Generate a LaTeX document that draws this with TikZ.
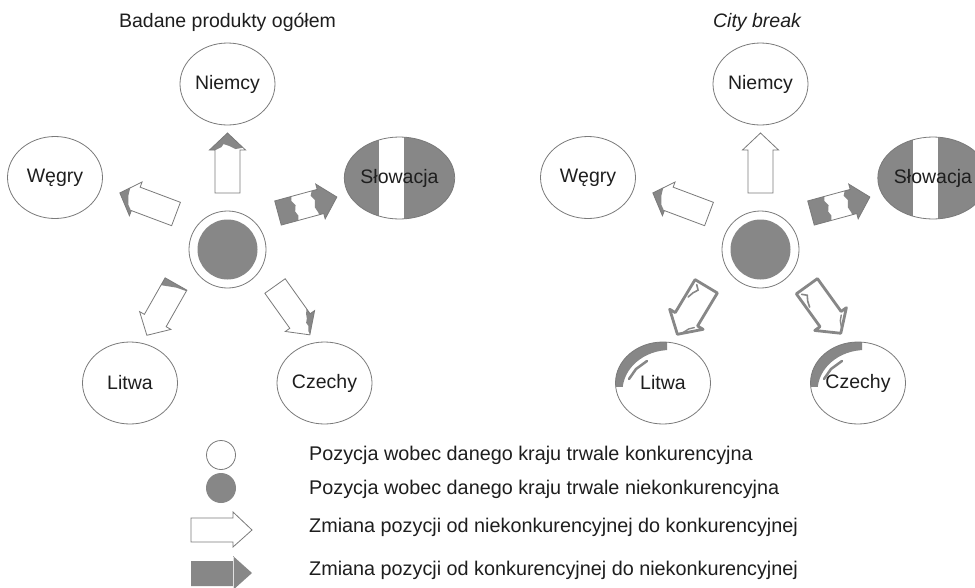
\documentclass[tikz,border=0pt]{standalone}
\usepackage{fontspec}
\setmainfont{Liberation Sans}
\usetikzlibrary{shapes.geometric}
\definecolor{fillgrey}{HTML}{878787}
\definecolor{linegrey}{HTML}{7A7A7A}
\definecolor{txt}{HTML}{1E1E1E}
\newcommand\labfont{\fontsize{19.5}{23}\selectfont}
\newcommand\legfont{\fontsize{19.8}{23}\selectfont}
% block arrow: #1,#2 tail middle, #3 angle, #4 length, #5 grey patches
\newcommand\blkarrow[5]{%
 \begin{scope}[shift={(#1,#2)},rotate=#3]
  \fill[white] (0,-12.5) -- ({#4-17},-12.5) -- ({#4-17},-18) -- (#4,0) -- ({#4-17},18) -- ({#4-17},12.5) -- (0,12.5) -- cycle;
  \begin{scope}
   \clip (0,-12.5) -- ({#4-17},-12.5) -- ({#4-17},-18) -- (#4,0) -- ({#4-17},18) -- ({#4-17},12.5) -- (0,12.5) -- cycle;
   #5
  \end{scope}
  \draw[arrline] (0,-12.5) -- ({#4-17},-12.5) -- ({#4-17},-18) -- (#4,0) -- ({#4-17},18) -- ({#4-17},12.5) -- (0,12.5) -- cycle;
 \end{scope}}
% thick outlined block arrow
\newcommand\thkarrow[4]{%
 \begin{scope}[shift={(#1,#2)},rotate=#3]
  \draw[fillgrey, fill=white, line width=2.8pt, line join=round] (1.5,-13) -- ({#4-19},-13) -- ({#4-19},-19.5) -- ({#4-1.5},0) -- ({#4-19},19.5) -- ({#4-19},13) -- (1.5,13) -- cycle;
  \draw[fillgrey, line width=1.6pt, line cap=round] (5,9) -- (9,5) -- (14,8) -- (20,10);
  \draw[fillgrey, line width=1.4pt, line cap=round] ({#4-16},-11) -- ({#4-12},-7) -- ({#4-6},-4);
 \end{scope}}
\tikzset{
  arrline/.style={draw=linegrey, line width=0.8pt, line join=miter},
  country/.style={ellipse, draw=linegrey, line width=0.8pt, minimum width=95pt, minimum height=82pt, inner sep=0pt, font=\labfont, text=txt},
  slovak/.style={country, path picture={
     \fill[fillgrey] (path picture bounding box.south west) rectangle ([xshift=-20.5pt]path picture bounding box.north);
     \fill[fillgrey] ([xshift=4.5pt]path picture bounding box.south) rectangle (path picture bounding box.north east);}},
  outerc/.style={circle, draw=linegrey, line width=0.8pt, minimum size=77pt, inner sep=0pt},
  innerc/.style={circle, fill=fillgrey, minimum size=60pt, inner sep=0pt},
  legtext/.style={anchor=west, font=\legfont, text=txt, inner sep=0pt},
  ttl/.style={font=\labfont, text=txt, inner sep=0pt}
}
\begin{document}
\begin{tikzpicture}[x=1pt,y=-1pt]
\useasboundingbox (0,0) rectangle (975,587);
\fill[white] (0,0) rectangle (975,587);

% ---------- left diagram ----------
\node[ttl] (t1) at (227.5,22) {Badane produkty ogółem};
\node[country] (n1) at (227.5,84) {Niemcy};
\node[country] (w1) at (55,177.5) {Węgry};
\node[slovak] (s1) at (399.5,178) {Słowacja};
\node[country] (l1) at (130,383) {Litwa};
\node[country] (c1) at (324.5,383) {Czechy};
\node[outerc] (m1) at (227.5,249.5) {};
\node[innerc] (mi1) at (m1.center) {};

\blkarrow{227.5}{193}{90}{60}{\fill[fillgrey] (43,-20) -- (43,-12) -- (46,-6) -- (49,-4) -- (47,2) -- (44,8) -- (46,20) -- (62,20) -- (62,-20) -- cycle;}
\blkarrow{176}{214}{159.4}{60}{\fill[fillgrey] (43,-20) -- (43,-13) -- (48,-8) -- (51,0) -- (52,8) -- (54,20) -- (62,20) -- (62,-20) -- cycle;}
\blkarrow{278}{213}{15.2}{61}{\fill[fillgrey] (-1,-15) -- (18,-15) -- (16,-8) -- (19,-3) -- (17,3) -- (19,8) -- (17,15) -- (-1,15) -- cycle;
  \fill[fillgrey] (38,-20) -- (38,-12) -- (36,-8) -- (39,-3) -- (37,4) -- (39,10) -- (40,20) -- (63,20) -- (63,-20) -- cycle;}
\blkarrow{176}{284}{240.4}{59}{\fill[fillgrey] (-1,14) -- (9,14) -- (6,6) -- (3,-2) -- (1,-13) -- (-1,-13) -- cycle;}
\blkarrow{275}{286}{-54.5}{60}{\fill[fillgrey] (36,-20) -- (36,-13) -- (41,-9) -- (45,-7) -- (48,-4) -- (52,-4) -- (56,-1) -- (62,0) -- (62,-20) -- cycle;}

% ---------- right diagram ----------
\node[ttl, font=\labfont\itshape] (t2) at (757,22) {City break};
\node[country] (n2) at (760.5,84) {Niemcy};
\node[country] (w2) at (588,177.5) {Węgry};
\node[slovak] (s2) at (933,178) {Słowacja};
\begin{scope}
 \clip (663,383) ellipse [x radius=47.5, y radius=41];
 \clip (610,338) rectangle (667,386);
 \fill[fillgrey, even odd rule] (663,383) ellipse [x radius=47.5, y radius=41] (670,391) ellipse [x radius=47.5, y radius=41];
\end{scope}
\draw[fillgrey, line width=2.5pt, line cap=round] (629,379) -- (636,369) -- (647,361);
\begin{scope}
 \clip (858,383) ellipse [x radius=47.5, y radius=41];
 \clip (805,338) rectangle (862,386);
 \fill[fillgrey, even odd rule] (858,383) ellipse [x radius=47.5, y radius=41] (865,391) ellipse [x radius=47.5, y radius=41];
\end{scope}
\draw[fillgrey, line width=2.5pt, line cap=round] (824,379) -- (831,369) -- (842,361);
\node[country] (l2) at (663,383) {Litwa};
\node[country] (c2) at (858,383) {Czechy};
\node[outerc] (m2) at (760.5,249.5) {};
\node[innerc] (mi2) at (m2.center) {};

\blkarrow{760.5}{193}{90}{60}{}
\blkarrow{709}{214}{159.4}{60}{\fill[fillgrey] (43,-20) -- (43,-13) -- (48,-8) -- (51,0) -- (52,8) -- (54,20) -- (62,20) -- (62,-20) -- cycle;}
\blkarrow{811}{213}{15.2}{61}{\fill[fillgrey] (-1,-15) -- (18,-15) -- (16,-8) -- (19,-3) -- (17,3) -- (19,8) -- (17,15) -- (-1,15) -- cycle;
  \fill[fillgrey] (38,-20) -- (38,-12) -- (36,-8) -- (39,-3) -- (37,4) -- (39,10) -- (40,20) -- (63,20) -- (63,-20) -- cycle;}
\thkarrow{707}{285}{239}{59}
\thkarrow{806}{285}{-54.2}{61}

% ---------- legend ----------
\node[circle, draw=linegrey, line width=0.8pt, minimum size=29pt, inner sep=0pt] (lc1) at (221,455) {};
\node[circle, fill=fillgrey, minimum size=30pt, inner sep=0pt] (lc2) at (221,488) {};
\node[legtext] (lt1) at (309,455) {Pozycja wobec danego kraju trwale konkurencyjna};
\node[legtext] (lt2) at (309,489) {Pozycja wobec danego kraju trwale niekonkurencyjna};
\node[legtext] (lt3) at (309,527) {Zmiana pozycji od niekonkurencyjnej do konkurencyjnej};
\node[legtext] (lt4) at (309,570) {Zmiana pozycji od konkurencyjnej do niekonkurencyjnej};
\draw[arrline, fill=white] (191,518) -- (233,518) -- (233,512) -- (252,530) -- (233,547) -- (233,542) -- (191,542) -- cycle;
\fill[fillgrey] (191,561) -- (233,561) -- (233,556) -- (252,573) -- (233,590) -- (233,586) -- (191,586) -- cycle;
\draw[white!75!fillgrey, line width=0.8pt] (233,557) -- (233,589);
\end{tikzpicture}
\end{document}
